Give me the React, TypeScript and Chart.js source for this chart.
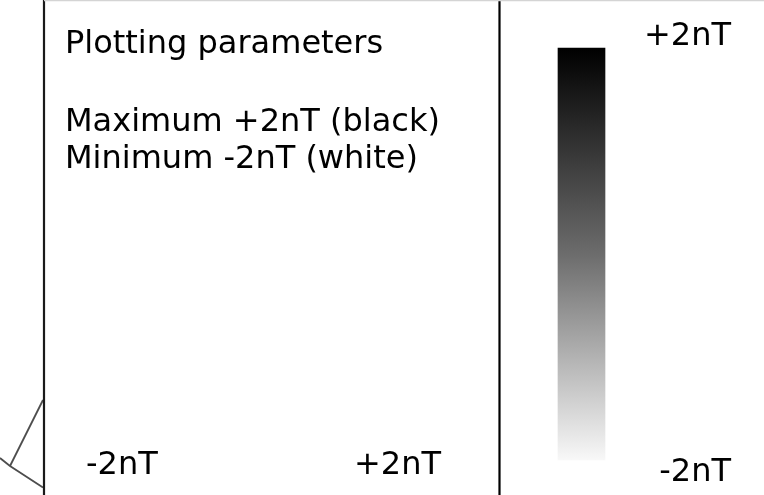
import React, { useEffect, useRef } from "react";
import { Chart, registerables } from "chart.js";

Chart.register(...registerables);

// ---- data ----
const maxNT = 2;
const minNT = -2;
const colorbarRange: [number, number] = [minNT, maxNT];
const colorbarStops = ["#000000", "#6c6c6c", "#f8f8f8"]; // black at maximum, white at minimum
const titleLines = ["Plotting parameters", "Maximum +2nT (black)", "Minimum -2nT (white)"];
const rangeLabels = ["-2nT", "+2nT"];
// survey outline fragment (figure units)
const outlineAX = [43, 10];
const outlineAY = [400, 466];
const outlineBX = [0, 10, 43];
const outlineBY = [458, 466, 487.5];
// panel dividers (figure units)
const dividerX = [44, 499.5];
const topEdgeX = [44, 764];

// ---- layout constants ----
const W = 764;
const H = 495;
const BAR_X = 581.5;
const BAR_W = 47;
const BAR_TOP = 48;
const BAR_BOTTOM = 460;

const span = ((maxNT - minNT) * H) / (BAR_BOTTOM - BAR_TOP);
const ycMax = maxNT + (BAR_TOP / H) * span;
const ycMin = ycMax - span;

const FONT = '32px "DejaVu Sans"';

const textPlugin = {
  id: "panelText",
  afterDatasetsDraw(chart: any) {
    const { ctx } = chart;
    const x = chart.scales.x;
    const y = chart.scales.y;
    const yc = chart.scales.yc;
    ctx.save();
    ctx.fillStyle = "#000";
    ctx.font = FONT;
    ctx.textBaseline = "alphabetic";
    ctx.textAlign = "left";
    ctx.fillText(titleLines[0], x.getPixelForValue(65), y.getPixelForValue(53));
    ctx.fillText(titleLines[1], x.getPixelForValue(65), y.getPixelForValue(131));
    ctx.fillText(titleLines[2], x.getPixelForValue(65), y.getPixelForValue(168));
    // horizontal range labels
    ctx.fillText(rangeLabels[0], x.getPixelForValue(86), y.getPixelForValue(474));
    ctx.textAlign = "right";
    ctx.fillText(rangeLabels[1], x.getPixelForValue(441), y.getPixelForValue(474));
    // colorbar labels
    ctx.fillText(rangeLabels[1], x.getPixelForValue(731), yc.getPixelForValue(maxNT) - 3);
    ctx.fillText(rangeLabels[0], x.getPixelForValue(731), yc.getPixelForValue(minNT) + 21);
    ctx.restore();
  },
};

const toPts = (xs: number[], ys: number[]) => xs.map((v, i) => ({ x: v, y: ys[i] }));

export default function App() {
  const ref = useRef<HTMLCanvasElement | null>(null);
  useEffect(() => {
    document.body.style.margin = "0";
    const canvas = ref.current;
    if (!canvas) return;
    const lineDs = (data: any[], color: string, width: number) => ({
      type: "line" as const,
      data,
      xAxisID: "x",
      yAxisID: "y",
      borderColor: color,
      borderWidth: width,
      pointRadius: 0,
      fill: false,
      tension: 0,
    });
    const chart = new Chart(canvas, {
      type: "bar",
      data: {
        datasets: [
          {
            type: "bar",
            data: [{ x: BAR_X, y: colorbarRange }] as any,
            xAxisID: "x",
            yAxisID: "yc",
            barThickness: BAR_W,
            borderWidth: 0,
            backgroundColor: (c: any) => {
              const ch = c.chart;
              const yc = ch.scales.yc;
              if (!ch.chartArea || !yc) return colorbarStops[0];
              const g = ch.ctx.createLinearGradient(
                0,
                yc.getPixelForValue(maxNT),
                0,
                yc.getPixelForValue(minNT)
              );
              g.addColorStop(0, colorbarStops[0]);
              g.addColorStop(0.5, colorbarStops[1]);
              g.addColorStop(1, colorbarStops[2]);
              return g;
            },
          } as any,
          lineDs(toPts(topEdgeX, [0.5, 0.5]), "#d4d4d4", 1.5),
          lineDs(toPts([dividerX[0], dividerX[0]], [0, H]), "#1a1a1a", 2.2),
          lineDs(toPts([dividerX[1], dividerX[1]], [0, H]), "#000000", 2.2),
          lineDs(toPts(outlineAX, outlineAY), "#4d4d4d", 1.8),
          lineDs(toPts(outlineBX, outlineBY), "#4d4d4d", 1.8),
        ],
      },
      options: {
        animation: false,
        responsive: true,
        maintainAspectRatio: false,
        layout: { padding: 0 },
        events: [],
        plugins: { legend: { display: false }, tooltip: { enabled: false }, title: { display: false } },
        scales: {
          x: { type: "linear", min: 0, max: W, display: false, offset: false },
          y: { type: "linear", min: 0, max: H, reverse: true, display: false },
          yc: { type: "linear", min: ycMin, max: ycMax, display: false },
        },
      },
      plugins: [textPlugin],
    });
    return () => chart.destroy();
  }, []);
  return (
    <div style={{ width: W, height: H, position: "relative", background: "#fff" }}>
      <canvas ref={ref} />
    </div>
  );
}
